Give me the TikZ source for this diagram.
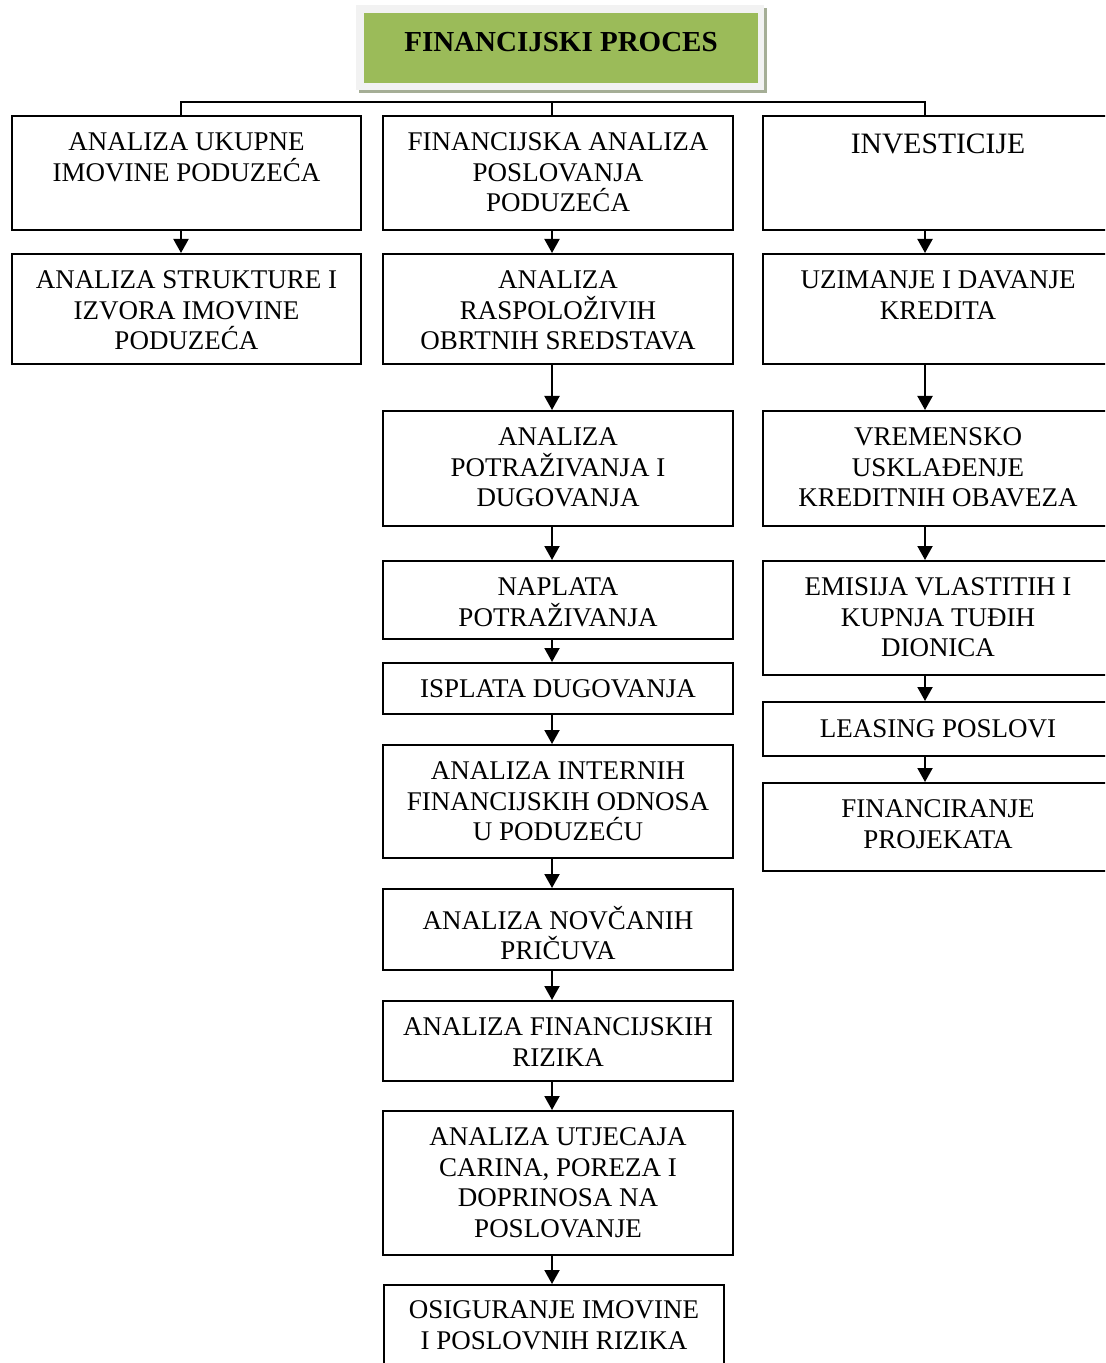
\documentclass[tikz,border=0pt]{standalone}
\usepackage{fontspec}
\setmainfont{Liberation Serif}
\usetikzlibrary{positioning, arrows.meta, calc}
\definecolor{zelena}{HTML}{9BBB59}
\definecolor{okvir}{HTML}{F2F2F2}
\definecolor{sjena}{HTML}{A5AE96}

\begin{document}
\begin{tikzpicture}[x=0.5pt, y=-0.5pt, line width=1pt,
  kutija/.style={draw, rectangle, inner sep=0pt, anchor=north west},
  tekst/.style={align=center, inner sep=0pt, anchor=north,
                font=\fontsize{13.5}{15.25}\selectfont,
                execute at begin node={\rule{0pt}{12pt}}},
  naslov/.style={fill=zelena, rectangle, inner sep=0pt,
                 minimum width=197pt, minimum height=35pt},
  strelica/.style={-{Triangle[width=7.5pt, length=7pt]}}]
  \useasboundingbox (0,0) rectangle (1105,1363);
  \clip (0,0) rectangle (1105,1363);

  \fill[sjena] (359,8) rectangle (767,93);
  \fill[okvir] (356,5) rectangle (764,90);
  \node[naslov] (title) at (561,48) {};
  \node[font=\fontsize{14.5}{16}\selectfont\bfseries, inner sep=0pt] (titletext) at (561,42) {FINANCIJSKI PROCES};

  \coordinate (cl) at (181,0);
  \coordinate (cm) at (552,0);
  \coordinate (cr) at (925,0);
  \coordinate (bus) at (552,102);

  \foreach \n/\xa/\ya/\xb/\yb/\o/\t in {
      l1/11/115/360/229/17/{ANALIZA UKUPNE\\IMOVINE PODUZEĆA},
      l2/11/253/360/363/17/{ANALIZA STRUKTURE I\\IZVORA IMOVINE\\PODUZEĆA},
      m1/382/115/732/229/17/{FINANCIJSKA ANALIZA\\POSLOVANJA\\PODUZEĆA},
      m2/382/253/732/363/17/{ANALIZA\\RASPOLOŽIVIH\\OBRTNIH SREDSTAVA},
      m3/382/410/732/525/17/{ANALIZA\\POTRAŽIVANJA I\\DUGOVANJA},
      m4/382/560/732/638/17/{NAPLATA\\POTRAŽIVANJA},
      m5/382/662/732/713/10/{ISPLATA DUGOVANJA},
      m6/382/744/732/857/17/{ANALIZA INTERNIH\\FINANCIJSKIH ODNOSA\\U PODUZEĆU},
      m7/382/888/732/969/17/{ANALIZA NOVČANIH\\PRIČUVA},
      m8/382/1000/732/1080/17/{ANALIZA FINANCIJSKIH\\RIZIKA},
      m9/382/1110/732/1254/17/{ANALIZA UTJECAJA\\CARINA, POREZA I\\DOPRINOSA NA\\POSLOVANJE},
      m10/383/1284/723/1380/16/{OSIGURANJE IMOVINE\\I POSLOVNIH RIZIKA},
      r1/762/115/1112/229/14/{\fontsize{14.8}{16}\selectfont INVESTICIJE},
      r2/762/253/1112/363/17/{UZIMANJE I DAVANJE\\KREDITA},
      r3/762/410/1112/525/17/{VREMENSKO\\USKLAĐENJE\\KREDITNIH OBAVEZA},
      r4/762/560/1112/674/17/{EMISIJA VLASTITIH I\\KUPNJA TUĐIH\\DIONICA},
      r5/762/701/1112/755/11/{LEASING POSLOVI},
      r6/762/782/1112/870/17/{FINANCIRANJE\\PROJEKATA}} {
    \node[kutija, minimum width={(\xb-\xa)*0.5pt}, minimum height={(\yb-\ya)*0.5pt}] (\n) at (\xa,\ya) {};
    \node[tekst] (\n t) at ($(\n.north)+(0,\o)$) {\t};
  }

  \draw (l1.north -| cl) -- (cl |- bus) -- (cr |- bus) -- (r1.north -| cr);
  \draw (bus) -- (m1.north -| cm);

  \draw[strelica] (l1.south -| cl) -- (l2.north -| cl);
  \foreach \a/\b in {m1/m2, m2/m3, m3/m4, m4/m5, m5/m6, m6/m7, m7/m8, m8/m9, m9/m10}
    \draw[strelica] (\a.south -| cm) -- (\b.north -| cm);
  \foreach \a/\b in {r1/r2, r2/r3, r3/r4, r4/r5, r5/r6}
    \draw[strelica] (\a.south -| cr) -- (\b.north -| cr);
\end{tikzpicture}
\end{document}
